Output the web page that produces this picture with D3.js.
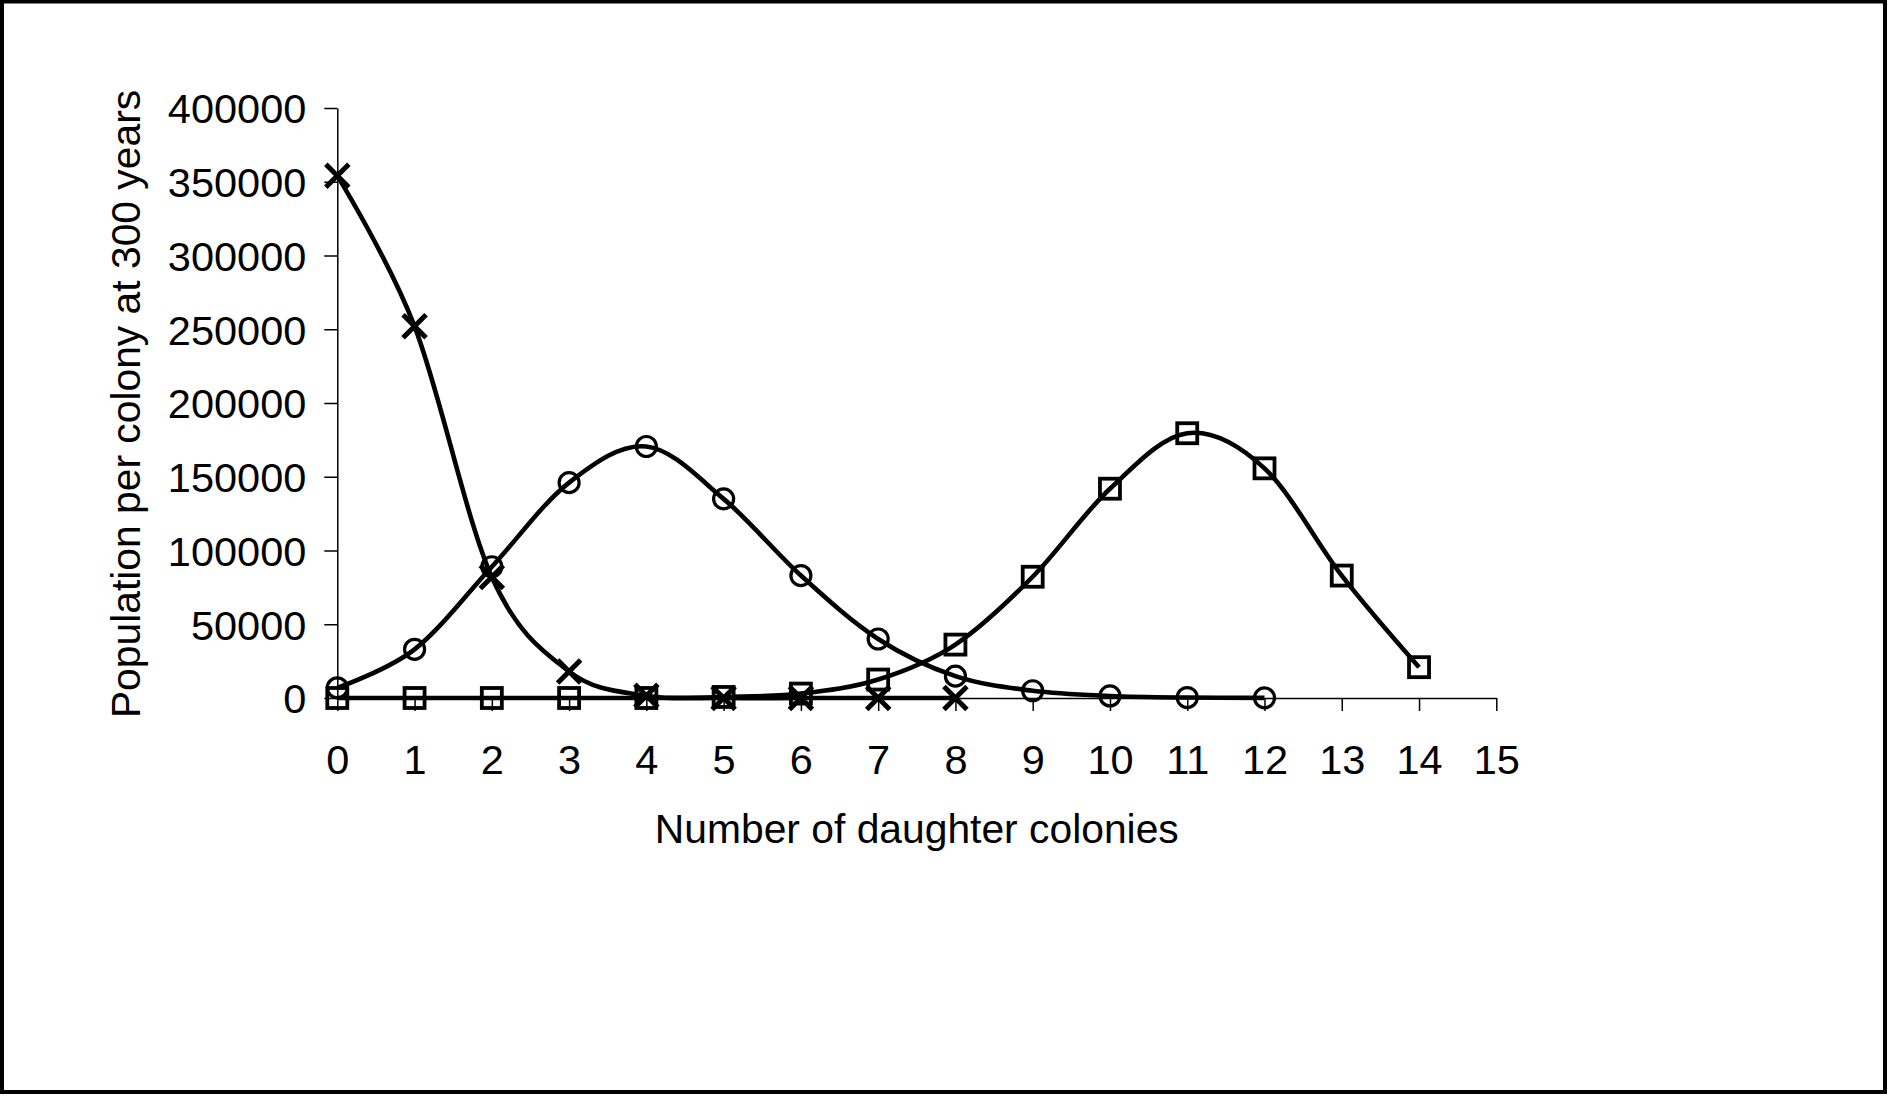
<!DOCTYPE html>
<html>
<head>
<meta charset="utf-8">
<script src="https://cdn.jsdelivr.net/npm/d3@7/dist/d3.min.js"></script>
<style>
  html, body { margin: 0; padding: 0; background: #fff; }
  svg { display: block; }
  text { font-family: "Liberation Sans", Arial, sans-serif; fill: #000; }
</style>
</head>
<body>
<script>
// ---- data ----
const xTicks = [0,1,2,3,4,5,6,7,8,9,10,11,12,13,14,15];
const yTicks = [0,50000,100000,150000,200000,250000,300000,350000,400000];

const crossX = [0,1,2,3,4,5,6,7,8];
const crossY = [354000,252000,82000,18000,1500,0,0,0,0];

const circleX = [0,1,2,3,4,5,6,7,8,9,10,11,12];
const circleY = [6900,33000,89000,146000,170500,135000,83000,40000,14800,4900,1400,300,100];

const squareX = [0,1,2,3,4,5,6,7,8,9,10,11,12,13,14];
const squareY = [0,0,0,0,0,700,3000,12500,36200,82200,141900,179500,155700,83000,20900];

const xTitle = "Number of daughter colonies";
const yTitle = "Population per colony at 300 years";

// ---- drawing ----
const W = 1889, H = 1096;
const svg = d3.select("body").append("svg").attr("width", W).attr("height", H);

svg.append("rect").attr("x", 2).attr("y", 1.5).attr("width", 1883).attr("height", 1090.5)
  .attr("fill", "#fff").attr("stroke", "#000").attr("stroke-width", 4);

const x = d3.scaleLinear().domain([0, 15]).range([337.3, 1496.3]);
const y = d3.scaleLinear().domain([0, 400000]).range([698, 108]);

const tickFont = 41.5;
const titleFont = 40.8;

// y axis
const gy = svg.append("g").attr("transform", `translate(${x(0)},0)`)
  .call(d3.axisLeft(y).tickValues(yTicks).tickFormat(d3.format("d")).tickSize(13).tickSizeOuter(0).tickPadding(18));
gy.selectAll("text").attr("font-size", tickFont).attr("font-family", null).attr("dy", "0.36em");

// x axis
const gx = svg.append("g").attr("transform", `translate(0,${y(0)})`)
  .call(d3.axisBottom(x).tickValues(xTicks).tickFormat(d3.format("d")).tickSize(13).tickSizeOuter(0).tickPadding(34));
gx.selectAll("text").attr("font-size", tickFont).attr("font-family", null);

svg.selectAll(".domain, .tick line").attr("stroke", "#000").attr("stroke-width", 1.5);

// titles
svg.append("text").attr("x", (x(0) + x(15)) / 2).attr("y", 843)
  .attr("text-anchor", "middle").attr("font-size", titleFont).text(xTitle);
svg.append("text").attr("transform", `translate(140,${(y(0) + y(400000)) / 2 + 1}) rotate(-90)`)
  .attr("text-anchor", "middle").attr("font-size", titleFont).text(yTitle);

// series
const line = d3.line().x(d => x(d[0])).y(d => y(d[1])).curve(d3.curveCardinal.tension(0));
const series = [
  { xs: crossX, ys: crossY, type: "cross" },
  { xs: circleX, ys: circleY, type: "circle" },
  { xs: squareX, ys: squareY, type: "square" }
];

series.forEach(s => {
  const pts = s.xs.map((v, i) => [v, s.ys[i]]);
  svg.append("path").datum(pts).attr("d", line)
    .attr("fill", "none").attr("stroke", "#000").attr("stroke-width", 4.6)
    .attr("stroke-linejoin", "round");
});

series.forEach(s => {
  const pts = s.xs.map((v, i) => [v, s.ys[i]]);
  const g = svg.append("g");
  pts.forEach(p => {
    const cx = x(p[0]), cy = y(p[1]);
    if (s.type === "circle") {
      g.append("circle").attr("cx", cx).attr("cy", cy).attr("r", 10)
        .attr("fill", "none").attr("stroke", "#000").attr("stroke-width", 3.2);
    } else if (s.type === "square") {
      g.append("rect").attr("x", cx - 10).attr("y", cy - 10).attr("width", 20).attr("height", 20)
        .attr("fill", "none").attr("stroke", "#000").attr("stroke-width", 3.8);
    } else {
      const r = 11.5;
      g.append("path").attr("d", `M${cx - r},${cy - r}L${cx + r},${cy + r}M${cx - r},${cy + r}L${cx + r},${cy - r}`)
        .attr("stroke", "#000").attr("stroke-width", 5).attr("fill", "none");
    }
  });
});
</script>
</body>
</html>
